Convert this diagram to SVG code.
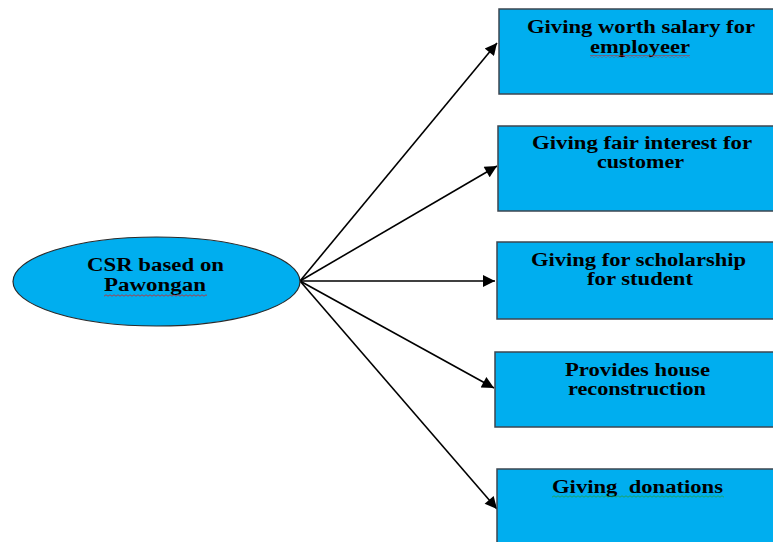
<svg xmlns="http://www.w3.org/2000/svg" width="773" height="542" viewBox="0 0 773 542">
<defs>
<style>
.box{fill:#00AEEF;stroke:#3c4650;stroke-width:1.5}
.ell{fill:#00AEEF;stroke:#2a2a2a;stroke-width:1.2}
.t{font-family:"Liberation Serif","Times New Roman",serif;font-weight:bold;font-size:18px;fill:#000;text-anchor:middle;white-space:pre}
.conn{stroke:#000;stroke-width:1.6;fill:none;marker-end:url(#ah)}
</style>
<marker id="ah" viewBox="0 0 10 10" refX="10" refY="5" markerUnits="userSpaceOnUse" markerWidth="16" markerHeight="12" orient="auto">
<path d="M0,0 L10,5 L0,10 z" fill="#000"/>
</marker>
<pattern id="wr" patternUnits="userSpaceOnUse" width="4" height="3">
<path d="M0,2.2 L2,0.8 L4,2.2" fill="none" stroke="#d02020" stroke-width="0.8"/>
</pattern>
<pattern id="wg" patternUnits="userSpaceOnUse" width="4" height="3">
<path d="M0,2.2 L2,0.8 L4,2.2" fill="none" stroke="#20a040" stroke-width="0.8"/>
</pattern>
</defs>
<rect width="773" height="542" fill="#fff"/>
<g id="connectors">
<line class="conn" x1="300" y1="281" x2="497" y2="43"/>
<line class="conn" x1="300" y1="281" x2="497" y2="166"/>
<line class="conn" x1="300" y1="281" x2="495" y2="281"/>
<line class="conn" x1="300" y1="281" x2="494" y2="388"/>
<line class="conn" x1="300" y1="281" x2="497" y2="509"/>
</g>
<g id="center">
<ellipse class="ell" cx="156.5" cy="281.5" rx="143.5" ry="44.5"/>
<text class="t" x="155.5" y="271" textLength="137" lengthAdjust="spacingAndGlyphs">CSR based on</text>
<text class="t" x="155" y="291" textLength="102" lengthAdjust="spacingAndGlyphs">Pawongan</text>
<rect x="104" y="294" width="103" height="3" fill="url(#wr)"/>
</g>
<g id="box1">
<rect class="box" x="499" y="9" width="290" height="85"/>
<text class="t" x="641" y="33" textLength="228" lengthAdjust="spacingAndGlyphs">Giving worth salary for</text>
<text class="t" x="640" y="53" textLength="100" lengthAdjust="spacingAndGlyphs">employeer</text>
<rect x="590" y="55" width="100" height="3" fill="url(#wr)"/>
</g>
<g id="box2">
<rect class="box" x="498" y="126" width="290" height="85"/>
<text class="t" x="642" y="149" textLength="220" lengthAdjust="spacingAndGlyphs">Giving fair interest for</text>
<text class="t" x="640.5" y="168" textLength="87" lengthAdjust="spacingAndGlyphs">customer</text>
</g>
<g id="box3">
<rect class="box" x="497" y="242" width="290" height="77"/>
<text class="t" x="638.5" y="266" textLength="215" lengthAdjust="spacingAndGlyphs">Giving for scholarship</text>
<text class="t" x="640" y="285" textLength="106" lengthAdjust="spacingAndGlyphs">for student</text>
</g>
<g id="box4">
<rect class="box" x="495" y="352" width="290" height="75"/>
<text class="t" x="637.5" y="376" textLength="145" lengthAdjust="spacingAndGlyphs">Provides house</text>
<text class="t" x="637" y="395" textLength="138" lengthAdjust="spacingAndGlyphs">reconstruction</text>
</g>
<g id="box5">
<rect class="box" x="497" y="469" width="290" height="85"/>
<text class="t" x="637.5" y="493" textLength="171" lengthAdjust="spacingAndGlyphs" xml:space="preserve">Giving  donations</text>
<rect x="552" y="495" width="172" height="3" fill="url(#wg)"/>
</g>
</svg>
